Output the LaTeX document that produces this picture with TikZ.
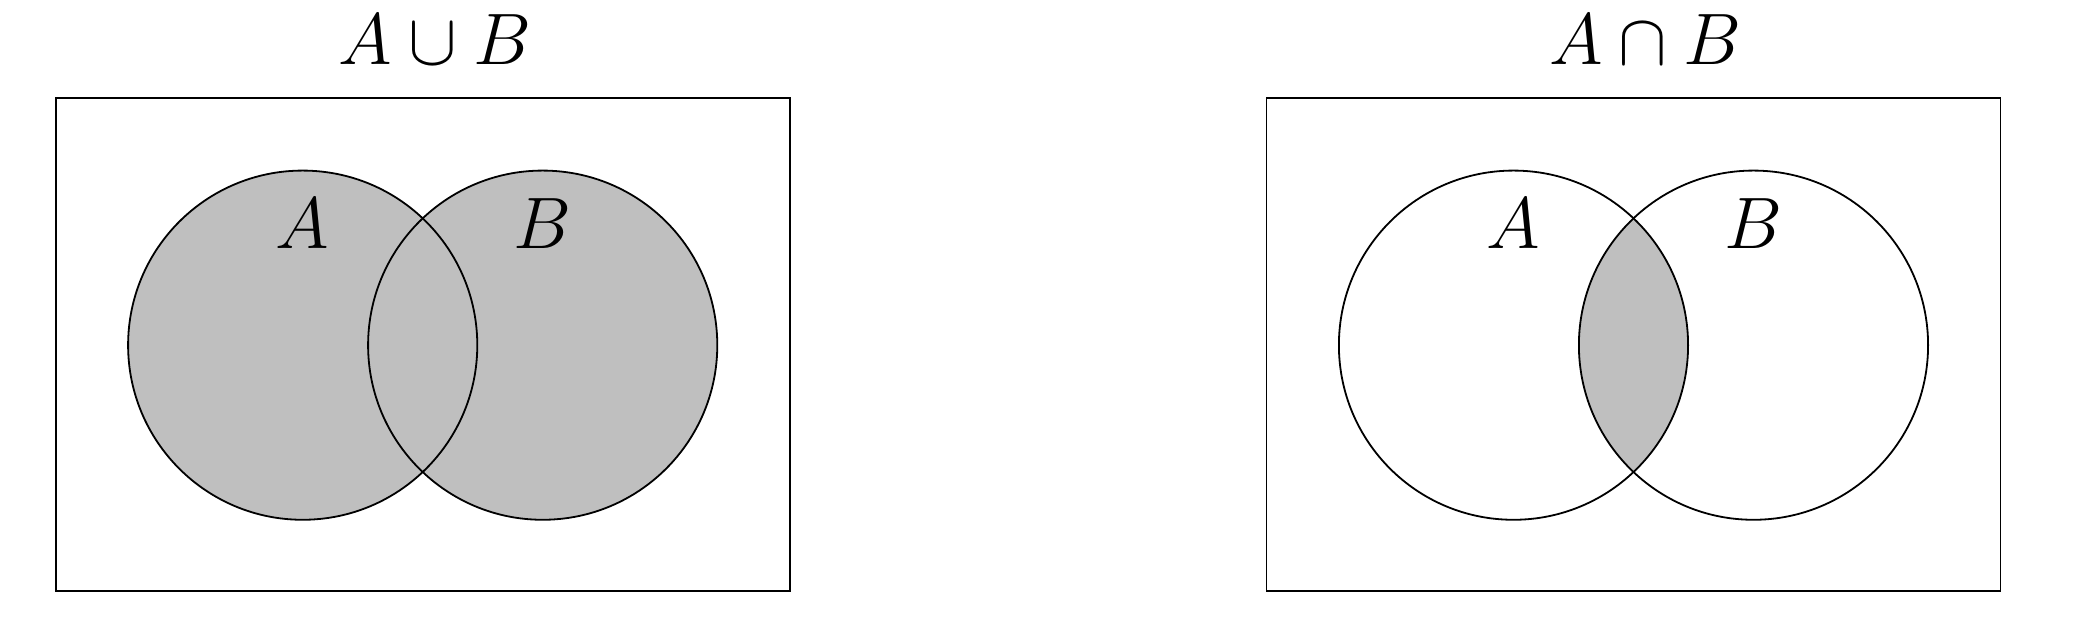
\documentclass[tikz,border=0pt]{standalone}
\begin{document}
\begin{tikzpicture}[x=0.01cm,y=0.01cm,
  outline/.style={draw=black,line width=0.018cm},
  shade/.style={fill=black!25},
  lbl/.style={inner sep=0pt,anchor=base,font=\fontsize{22.2}{26}\selectfont}]
\useasboundingbox (0,0) rectangle (2074,622);
% left: union
\fill[shade] (302.7,276.8) circle (174.6);
\fill[shade] (542.7,276.8) circle (174.6);
\draw[outline] (302.7,276.8) circle (174.6);
\draw[outline] (542.7,276.8) circle (174.6);
\draw[outline] (55.7,30.8) rectangle (789.7,524.1);
\node[lbl] (tU) at (435,557) {$A\cup B$};
\node[lbl] (lA1) at (302.7,373.7) {$A$};
\node[lbl] (lB1) at (542.7,373.7) {$B$};
% right: intersection
\begin{scope}
  \clip (1513.5,276.8) circle (174.6);
  \fill[shade] (1753.5,276.8) circle (174.6);
\end{scope}
\draw[outline] (1513.5,276.8) circle (174.6);
\draw[outline] (1753.5,276.8) circle (174.6);
\draw[outline] (1266.5,30.8) rectangle (2000.5,524.1);
\node[lbl] (tI) at (1645.5,557) {$A\cap B$};
\node[lbl] (lA2) at (1513.5,373.7) {$A$};
\node[lbl] (lB2) at (1753.5,373.7) {$B$};
\end{tikzpicture}
\end{document}
